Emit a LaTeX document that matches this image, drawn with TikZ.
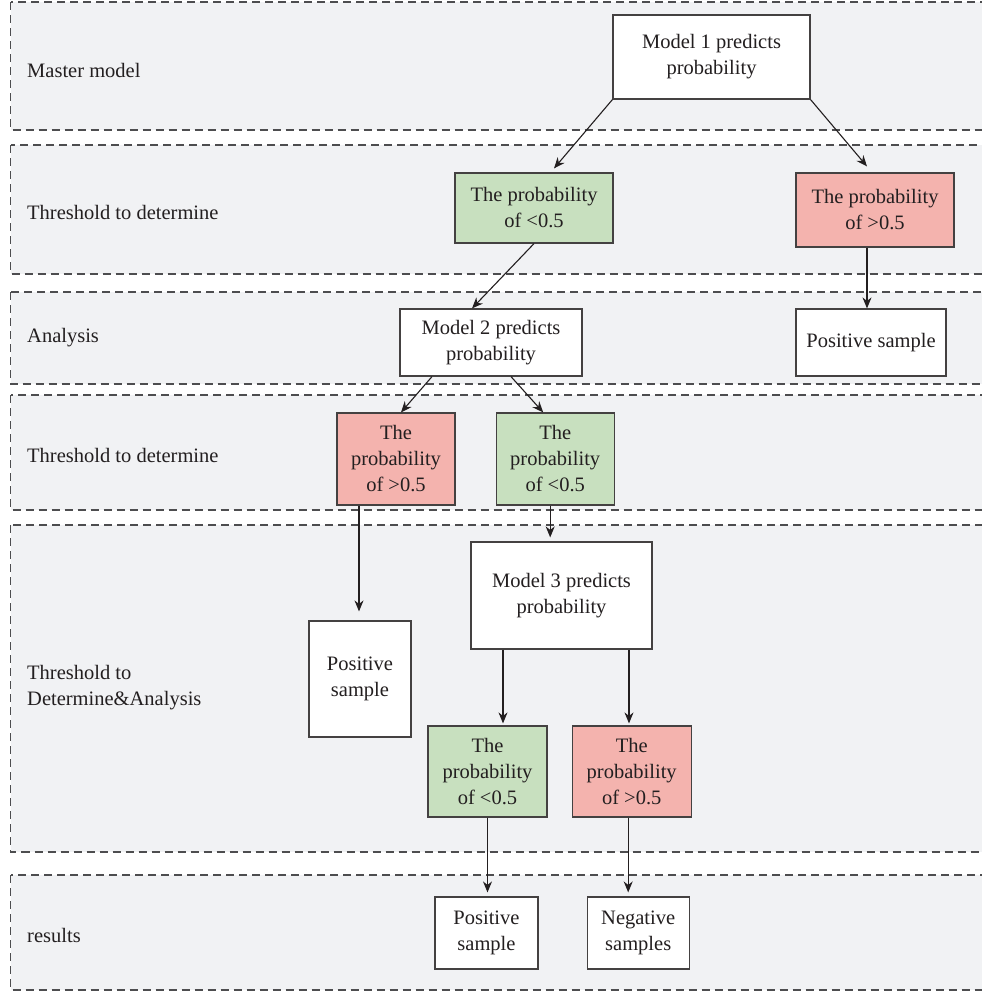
\documentclass[tikz,border=0pt]{standalone}
\usepackage{fontspec}
\setmainfont{Liberation Serif}
\usetikzlibrary{arrows.meta, positioning}
\definecolor{bandGray}{HTML}{F1F2F4}
\definecolor{dashGray}{HTML}{4D4D4F}
\definecolor{inkDark}{HTML}{231F20}
\definecolor{lowGreen}{HTML}{C8E0BF}
\definecolor{highRed}{HTML}{F4B3AE}

\begin{document}
\begin{tikzpicture}[
  x=1pt, y=-1pt,
  band/.style={draw=dashGray, fill=bandGray, line width=1.5pt, dash pattern=on 8pt off 5pt},
  lbl/.style={anchor=west, inner sep=0pt, align=left, text=inkDark, font=\fontsize{20.5}{26}\selectfont},
  model/.style={rectangle, draw=inkDark!85, fill=white, line width=1.2pt, inner sep=0pt, align=center, text=inkDark, font=\fontsize{20.5}{26}\selectfont},
  low/.style={model, fill=lowGreen},
  high/.style={model, fill=highRed},
  arrow/.style={-{Stealth[length=11pt, width=9pt]}, line width=1.1pt, color=inkDark},
]
\useasboundingbox (0,0) rectangle (982,994);

% stages
\draw[band] (10.5,2) rectangle (995,130);
\draw[band] (10.5,145) rectangle (995,274);
\draw[band] (10.5,292) rectangle (995,384);
\draw[band] (10.5,395) rectangle (995,510);
\draw[band] (10.5,525) rectangle (995,852);
\draw[band] (10.5,875) rectangle (995,990);

\node[lbl] (master) at (27,70) {Master model};
\node[lbl] (thresh1) at (27,212) {Threshold to determine};
\node[lbl] (analysis) at (27,338) {Analysis};
\node[lbl] (thresh2) at (27,455) {Threshold to determine};
\node[lbl] (threshana) at (27,688) {Threshold to\\Determine\&Analysis};
\node[lbl] (results) at (27,935) {results};

% models and decisions
\node[model, minimum width=197pt, minimum height=84pt] (m1) at (711.5,57) {Model 1 predicts\\probability};
\node[low, minimum width=158pt, minimum height=70pt] (low1) at (534,208) {The probability\\of <0.5};
\node[high, minimum width=158pt, minimum height=74pt] (high1) at (875,210) {The probability\\of >0.5};

\node[model, minimum width=182pt, minimum height=67pt] (m2) at (491,342.5) {Model 2 predicts\\probability};
\node[model, minimum width=150pt, minimum height=67pt] (pos1) at (871,342.5) {Positive sample};

\node[high, minimum width=118pt, minimum height=92pt] (high2) at (396,459) {The\\probability\\of >0.5};
\node[low, minimum width=118pt, minimum height=92pt, right=40pt of high2] (low2) {The\\probability\\of <0.5};

\node[model, minimum width=181pt, minimum height=107pt] (m3) at (561.5,595.5) {Model 3 predicts\\probability};
\node[model, minimum width=102pt, minimum height=116pt] (pos2) at (360,679) {Positive\\sample};

\node[low, minimum width=119pt, minimum height=91pt] (low3) at (487.5,771.5) {The\\probability\\of <0.5};
\node[high, minimum width=119pt, minimum height=91pt, right=24pt of low3] (high3) {The\\probability\\of >0.5};

\node[model, minimum width=103pt, minimum height=72pt] (pos3) at (486.5,933) {Positive\\sample};
\node[model, minimum width=102pt, minimum height=72pt, right=48pt of pos3] (neg) {Negative\\samples};

% connectors
\draw[arrow] (m1.south west) -- ([xshift=20pt, yshift=4pt]low1.north);
\draw[arrow] (m1.south east) -- ([xshift=-8pt, yshift=6pt]high1.north);
\draw[arrow] ([xshift=-8pt]high1.south) -- ([xshift=-4pt]pos1.north);
\draw[arrow] (low1.south) -- ([xshift=-19pt]m2.north);
\draw[arrow] ([xshift=-59pt]m2.south) -- ([xshift=5pt]high2.north);
\draw[arrow] ([xshift=20pt]m2.south) -- ([xshift=-12pt]low2.north);
\draw[arrow, shorten >=9pt] ([xshift=-37pt]high2.south) -- ([xshift=-37pt]high2.south |- pos2.north);
\draw[arrow, shorten >=4pt] ([xshift=-5pt]low2.south) -- ([xshift=-5pt]low2.south |- m3.north);
\draw[arrow, shorten >=2pt] ([xshift=-58.5pt]m3.south) -- ([xshift=-58.5pt]m3.south |- low3.north);
\draw[arrow, shorten >=2pt] ([xshift=67.5pt]m3.south) -- ([xshift=67.5pt]m3.south |- high3.north);
\draw[arrow, shorten >=4pt] (low3.south) -- (low3.south |- pos3.north);
\draw[arrow, shorten >=4pt] ([xshift=-3.5pt]high3.south) -- ([xshift=-3.5pt]high3.south |- neg.north);

\end{tikzpicture}
\end{document}
